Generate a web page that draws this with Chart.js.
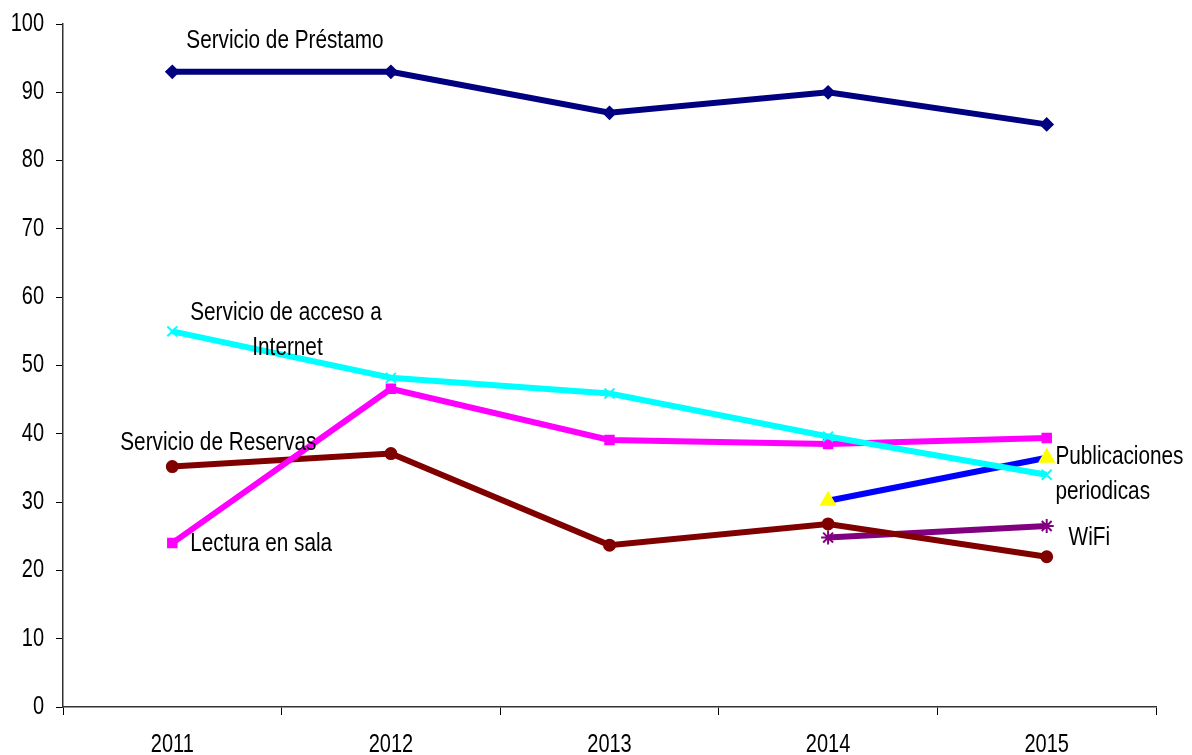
<!DOCTYPE html>
<html>
<head>
<meta charset="utf-8">
<script src="https://cdn.jsdelivr.net/npm/chart.js@4.4.1/dist/chart.umd.min.js"></script>
<style>
  html, body { margin: 0; padding: 0; background: #fff; }
  #wrap { width: 1192px; height: 755px; }
</style>
</head>
<body>
<div id="wrap"><canvas id="grafica"></canvas></div>
<script>
// datos
const anios = ["2011", "2012", "2013", "2014", "2015"];
const prestamo = [93, 93, 87, 90, 85.3];
const internet = [55, 48.2, 45.9, 39.6, 34];
const lectura = [24, 46.6, 39.1, 38.5, 39.4];
const reservas = [35.2, 37.1, 23.7, 26.8, 22];
const wifi = [null, null, null, 24.8, 26.5];
const publicaciones = [null, null, null, 30.2, 36.5];

// etiquetas dentro del grafico (posicion en indice de categoria / valor)
const etiquetas = ["Servicio de Préstamo", "Servicio de acceso a", "Internet", "Servicio de Reservas",
                   "Lectura en sala", "Publicaciones", "periodicas", "WiFi"];
const etiquetasX = [0.064, 0.082, 0.366, -0.238, 0.082, 4.04, 4.04, 4.10];
const etiquetasY = [97.5, 57.7, 52.6, 38.6, 23.9, 36.6, 31.5, 24.7];

// no hay Arial Narrow: se estrecha la Liberation Sans a mano
const fuente = "'Liberation Sans', Arial, sans-serif";

function textoEstrecho(ctx, t, x, y, size, factor, align) {
    ctx.save();
    ctx.font = size + "px " + fuente;
    ctx.fillStyle = "#000";
    ctx.textAlign = align;
    ctx.textBaseline = "middle";
    ctx.translate(x, y);
    ctx.scale(factor, 1);
    ctx.fillText(t, 0, 0);
    ctx.restore();
}

const pluginTextos = {
    id: "textos",
    afterDraw(chart) {
        const ctx = chart.ctx;
        const sx = chart.scales.x, sy = chart.scales.y;
        const paso = sx.getPixelForValue(1) - sx.getPixelForValue(0);

        // marcas del eje y
        sy.ticks.forEach(tk => {
            textoEstrecho(ctx, String(tk.value), sy.right - 19, sy.getPixelForValue(tk.value), 25, 0.8, "right");
        });
        // anios
        anios.forEach((a, i) => {
            textoEstrecho(ctx, a, sx.getPixelForValue(i), sx.top + 38, 25, 0.8, "center");
        });
        // nombres de las series
        etiquetas.forEach((t, i) => {
            const x = sx.getPixelForValue(0) + etiquetasX[i] * paso;
            textoEstrecho(ctx, t, x, sy.getPixelForValue(etiquetasY[i]), 25, 0.83, "left");
        });
    }
};

function serie(label, data, color, estilo, radio, colorPunto) {
    return {
        label: label,
        data: data,
        borderColor: color,
        backgroundColor: colorPunto || color,
        pointBackgroundColor: colorPunto || color,
        pointBorderColor: colorPunto || color,
        borderWidth: 6,
        pointStyle: estilo,
        pointRadius: radio,
        pointBorderWidth: 2,
        tension: 0,
        spanGaps: false
    };
}

new Chart(document.getElementById("grafica"), {
    type: "line",
    data: {
        labels: anios,
        datasets: [
            serie("Servicio de Préstamo", prestamo, "#000080", "rectRot", 6),
            serie("Servicio de acceso a Internet", internet, "#00FFFF", "crossRot", 7),
            serie("Lectura en sala", lectura, "#FF00FF", "rect", 6),
            serie("Servicio de Reservas", reservas, "#800000", "circle", 5.5),
            serie("WiFi", wifi, "#800080", "star", 7),
            serie("Publicaciones periodicas", publicaciones, "#0000FF", "triangle", 8, "#FFFF00")
        ]
    },
    options: {
        responsive: true,
        maintainAspectRatio: false,
        animation: false,
        layout: { padding: { top: 24, right: 36, bottom: 0, left: 0 } },
        plugins: {
            legend: { display: false },
            tooltip: { enabled: false }
        },
        scales: {
            x: {
                offset: true,
                grid: { offset: true, drawOnChartArea: false, drawTicks: true, tickLength: 8, color: "#000", lineWidth: 1 },
                border: { display: true, color: "#333", width: 1.5 },
                ticks: { display: false },
                afterFit(scale) { scale.height = 48; }
            },
            y: {
                min: 0,
                max: 100,
                ticks: { stepSize: 10, display: false },
                grid: { drawOnChartArea: false, drawTicks: true, tickLength: 7, color: "#000", lineWidth: 1 },
                border: { display: true, color: "#333", width: 1.5 },
                afterFit(scale) { scale.width = 63; }
            }
        }
    },
    plugins: [pluginTextos]
});
</script>
</body>
</html>
